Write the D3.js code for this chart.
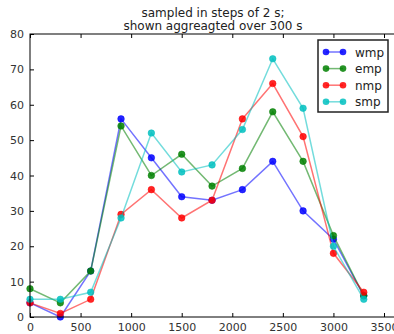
<!DOCTYPE html>
<html>
<head>
<meta charset="utf-8">
<script src="https://cdn.jsdelivr.net/npm/d3@7"></script>
<style>
  body { margin: 0; background: #fff; }
  svg { font-family: "DejaVu Sans", sans-serif; }
</style>
</head>
<body>
<svg width="394" height="334"></svg>
<script>
// time bins (s)
var times = [0, 300, 600, 900, 1200, 1500, 1800, 2100, 2400, 2700, 3000, 3300];

var wmp = [4, 0, 13, 56, 45, 34, 33, 36, 44, 30, 22, 6];
var emp = [8, 4, 13, 54, 40, 46, 37, 42, 58, 44, 23, 6];
var nmp = [4, 1, 5, 29, 36, 28, 33, 56, 66, 51, 18, 7];
var smp = [5, 5, 7, 28, 52, 41, 43, 53, 73, 59, 20, 5];

var seriesNames = ['wmp', 'emp', 'nmp', 'smp'];
var seriesColors = ['#0000ff', '#008000', '#ff0000', '#00bfbf'];
var xTicks = [0, 500, 1000, 1500, 2000, 2500, 3000, 3500];
var yTicks = [0, 10, 20, 30, 40, 50, 60, 70, 80];

var allSeries = [wmp, emp, nmp, smp];

var svg = d3.select('svg');
var mLeft = 30, mRight = 396, mTop = 34, mBottom = 317;

var x = d3.scaleLinear().domain([0, 3500]).range([mLeft, 384]);
var y = d3.scaleLinear().domain([0, 80]).range([mBottom, mTop]);

// title
svg.append('text').attr('x', 213).attr('y', 17).attr('text-anchor', 'middle')
    .attr('font-size', 12).attr('fill', '#222').text('sampled in steps of 2 s;');
svg.append('text').attr('x', 213).attr('y', 30).attr('text-anchor', 'middle')
    .attr('font-size', 12).attr('fill', '#222').text('shown aggreagted over 300 s');

// axes (ticks pointing inward, matplotlib classic)
var xAxis = d3.axisBottom(x).tickValues(xTicks).tickFormat(d3.format('d'))
    .tickSizeInner(-4).tickSizeOuter(0).tickPadding(6);
var yAxis = d3.axisLeft(y).tickValues(yTicks).tickFormat(d3.format('d'))
    .tickSizeInner(-4).tickSizeOuter(0).tickPadding(6);

var gx = svg.append('g').attr('transform', 'translate(0,' + mBottom + ')').call(xAxis);
var gy = svg.append('g').attr('transform', 'translate(' + mLeft + ',0)').call(yAxis);
[gx, gy].forEach(function(g) {
    g.select('.domain').remove();
    g.selectAll('text').attr('font-size', 11).attr('fill', '#333').attr('font-family', '"DejaVu Sans", sans-serif');
    g.selectAll('line').attr('stroke', '#000');
});

// top ticks
svg.append('g').attr('transform', 'translate(0,' + mTop + ')')
    .call(d3.axisTop(x).tickValues(xTicks).tickSizeInner(-4).tickSizeOuter(0).tickFormat(''))
    .call(function(g) { g.select('.domain').remove(); });

// series
var line = d3.line().x(function(d, i) { return x(times[i]); }).y(function(d) { return y(d); });

allSeries.forEach(function(s, k) {
    svg.append('path').datum(s).attr('d', line)
        .attr('fill', 'none').attr('stroke', seriesColors[k])
        .attr('stroke-width', 1.5).attr('stroke-opacity', 0.55);
    svg.append('g').selectAll('circle').data(s).enter().append('circle')
        .attr('cx', function(d, i) { return x(times[i]); })
        .attr('cy', function(d) { return y(d); })
        .attr('r', 3.3)
        .attr('fill', seriesColors[k])
        .attr('fill-opacity', 0.85)
        .attr('stroke', seriesColors[k]).attr('stroke-width', 0.5);
});

// frame
svg.append('rect').attr('x', mLeft).attr('y', mTop)
    .attr('width', mRight - mLeft).attr('height', mBottom - mTop)
    .attr('fill', 'none').attr('stroke', '#000').attr('stroke-width', 1);

// legend
var lg = svg.append('g');
lg.append('rect').attr('x', 318).attr('y', 40).attr('width', 70).attr('height', 72)
    .attr('fill', '#fff').attr('stroke', '#222').attr('stroke-width', 1.5);
seriesNames.forEach(function(name, k) {
    var yy = 52 + k * 16.6;
    lg.append('line').attr('x1', 326).attr('x2', 343).attr('y1', yy).attr('y2', yy)
        .attr('stroke', seriesColors[k]).attr('stroke-width', 1.5).attr('stroke-opacity', 0.55);
    [326, 343].forEach(function(cx) {
        lg.append('circle').attr('cx', cx).attr('cy', yy).attr('r', 3.3)
            .attr('fill', seriesColors[k]).attr('fill-opacity', 0.85);
    });
    lg.append('text').attr('x', 355).attr('y', yy + 4.5).attr('font-size', 12)
        .attr('fill', '#222').text(name);
});
</script>
</body>
</html>
